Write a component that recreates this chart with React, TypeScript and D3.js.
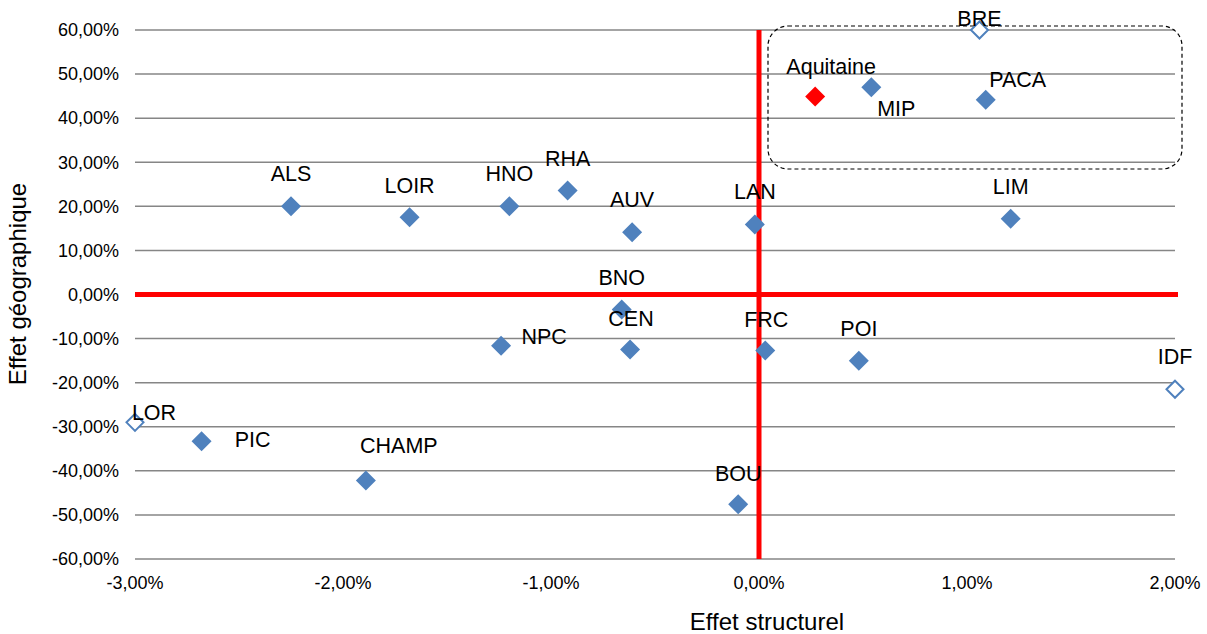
import React from "react";
import * as d3 from "d3";

const regions = ["ALS","LOIR","HNO","RHA","AUV","LAN","LIM","BNO","CEN","NPC","FRC","POI","BOU","CHAMP","PIC","LOR","IDF","BRE","PACA","MIP","Aquitaine"];
const effetStructurel = [-2.25,-1.68,-1.20,-0.92,-0.61,-0.02,1.21,-0.66,-0.62,-1.24,0.03,0.48,-0.10,-1.89,-2.68,-3.00,2.00,1.06,1.09,0.54,0.27];
const effetGeographique = [20.0,17.5,20.0,23.6,14.1,15.9,17.2,-3.4,-12.5,-11.6,-12.7,-15.0,-47.6,-42.2,-33.3,-29.0,-21.5,60.0,44.2,47.0,44.9];
const markerType = ["filled","filled","filled","filled","filled","filled","filled","filled","filled","filled","filled","filled","filled","filled","filled","hollow","hollow","hollow","filled","filled","highlight"];

const xTicks = [-3,-2,-1,0,1,2];
const yTicks = [-60,-50,-40,-30,-20,-10,0,10,20,30,40,50,60];

// layout: label offsets (px) from marker to label center
const labelDx = [0,0,0,0,0,0,0,0,1,43,1,0,0,33,51,19,0,0,32,25,16];
const labelDy = [-33,-32,-33,-32,-33,-33,-32,-32,-31,-9,-31,-32,-31,-35,-2,-10,-33,-12,-20,21,-30];

const fmt = (v: number) => v.toFixed(2).replace(".", ",") + "%";

export default function App() {
  const W = 1207, H = 634;
  const x = d3.scaleLinear().domain([-3, 2]).range([135, 1175]);
  const y = d3.scaleLinear().domain([-60, 60]).range([559, 30]);
  const font = "'Liberation Sans', Arial, sans-serif";
  const blue = "#4F81BD";
  const diamond = (cx: number, cy: number, r: number) =>
    `M${cx},${cy - r}L${cx + r},${cy}L${cx},${cy + r}L${cx - r},${cy}Z`;

  return (
    <div style={{ position: "absolute", left: 0, top: 0 }}>
      <svg width={W} height={H} style={{ display: "block", background: "#fff" }}>
        {yTicks.map((t) => (
          <g key={"y" + t}>
            <line x1={x(-3)} x2={x(2)} y1={y(t)} y2={y(t)} stroke="#868686" strokeWidth={1.5} />
            <text x={119} y={y(t)} dy="0.35em" textAnchor="end" fontFamily={font} fontSize={18} fill="#000">
              {fmt(t)}
            </text>
          </g>
        ))}
        {xTicks.map((t) => (
          <text key={"x" + t} x={x(t)} y={583} dy="0.35em" textAnchor="middle" fontFamily={font} fontSize={18} fill="#000">
            {fmt(t)}
          </text>
        ))}
        <line x1={x(-3)} x2={x(2) + 3} y1={y(0)} y2={y(0)} stroke="#FF0000" strokeWidth={5} />
        <line x1={x(0)} x2={x(0)} y1={y(60)} y2={y(-60)} stroke="#FF0000" strokeWidth={5} />
        <rect x={768} y={26} width={414} height={143} rx={20} ry={20} fill="none" stroke="#000" strokeWidth={1.2} strokeDasharray="4,3" />
        {regions.map((r, i) => {
          const cx = x(effetStructurel[i]);
          const cy = y(effetGeographique[i]);
          const t = markerType[i];
          return (
            <g key={r}>
              {t === "hollow" ? (
                <path d={diamond(cx, cy, 8.5)} fill="#fff" stroke={blue} strokeWidth={2} />
              ) : (
                <path d={diamond(cx, cy, 10)} fill={t === "highlight" ? "#FF0000" : blue} />
              )}
            </g>
          );
        })}
        {regions.map((r, i) => (
          <text key={"l" + r} x={x(effetStructurel[i]) + labelDx[i]} y={y(effetGeographique[i]) + labelDy[i]} dy="0.35em"
            textAnchor="middle" fontFamily={font} fontSize={21.5} fill="#000">
            {r}
          </text>
        ))}
        <text x={767} y={622} dy="0.35em" textAnchor="middle" fontFamily={font} fontSize={24} fill="#000">Effet structurel</text>
        <text transform={`translate(18,284) rotate(-90)`} dy="0.35em" textAnchor="middle" fontFamily={font} fontSize={24} fill="#000">Effet géographique</text>
      </svg>
    </div>
  );
}
